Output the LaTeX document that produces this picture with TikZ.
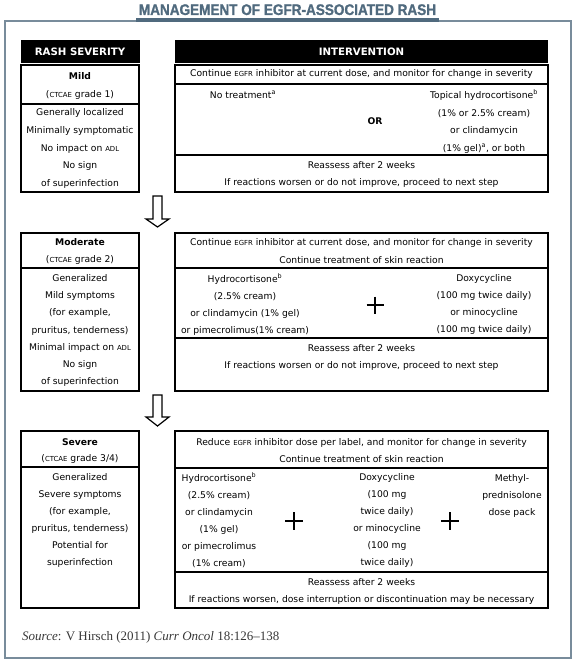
\documentclass[tikz,border=0pt]{standalone}
\usepackage{fontspec}
\setmainfont{DejaVu Sans}
\newfontfamily\srcfont{Liberation Serif}[Ligatures=TeX]
\newfontfamily\titlefont{Liberation Sans}[FakeStretch=0.88,FakeBold=1.2]
\definecolor{framec}{RGB}{120,140,155}
\definecolor{titlec}{RGB}{80,106,126}
\definecolor{srcc}{RGB}{55,55,55}
\newcommand\smc[1]{{\fontsize{6.9}{6.9}\selectfont #1}}
\begin{document}
\begin{tikzpicture}[x=1pt,y=-1pt,
  box/.style={draw=black, line width=1.7pt, inner sep=0pt, outer sep=0pt},
  hdr/.style={fill=black, inner sep=0pt, minimum height=23pt, text=white, font=\fontsize{10.2}{12}\selectfont\bfseries},
  txt/.style={inner sep=0pt, font=\fontsize{9.2}{11}\selectfont},
  btxt/.style={inner sep=0pt, font=\fontsize{9.2}{11}\selectfont\bfseries},
  blk/.style={inner sep=0pt, align=center, font=\fontsize{9.2}{#1}\selectfont},
  div/.style={line width=1.5pt},
  arr/.style={draw=black, line width=1.2pt, fill=white, line join=miter},
  plusst/.style={line width=1.3pt}]
\useasboundingbox (0,0) rectangle (579,663);
% frame and title
\draw[framec, line width=1.3pt] (5,21) rectangle (571,658);
\fill[titlec] (136,18) rectangle (439,21.8);
\node[anchor=base, inner sep=0pt, text=titlec, font=\titlefont\bfseries\fontsize{15.4}{17}\selectfont] (title) at (287.5,15) {MANAGEMENT OF EGFR-ASSOCIATED RASH};
% headers
\node[hdr, minimum width=119pt] (hL) at (80,51.5) {RASH SEVERITY};
\node[hdr, minimum width=373pt] (hR) at (361.5,51.5) {INTERVENTION};

% ---------- Mild ----------
\node[box, minimum width=118pt, minimum height=127pt] (mL) at (80,128.5) {};
\node[box, minimum width=373pt, minimum height=127pt] (mR) at (361.5,128.5) {};
\draw[div] (21,104) -- (139,104);
\draw[div] (175,84) -- (548,84);
\draw[div] (175,155) -- (548,155);
\node[btxt] (mT) at (80,76) {Mild};
\node[txt] (mG) at (80,95) {(\smc{CTCAE} grade 1)};
\node[blk=17.75pt] (mD) at (80,148.5) {Generally localized\\Minimally symptomatic\\No impact on \smc{ADL}\\No sign\\of superinfection};
\node[txt] (mR1) at (361.5,74) {Continue \smc{EGFR} inhibitor at current dose, and monitor for change in severity};
\node[txt] (mNo) at (243,95) {No treatment\textsuperscript{a}};
\node[btxt] (mOr) at (375,121) {OR};
\node[blk=17.7pt] (mTop) at (484,121.5) {Topical hydrocortisone\textsuperscript{b}\\(1\% or 2.5\% cream)\\or clindamycin\\(1\% gel)\textsuperscript{a}, or both};
\node[blk=17pt] (mRe) at (361.5,174.5) {Reassess after 2 weeks\\If reactions worsen or do not improve, proceed to next step};

% arrow 1
\draw[arr] (153,196) -- (162,196) -- (162,219) -- (169,219) -- (157.5,227) -- (146,219) -- (153,219) -- cycle;

% ---------- Moderate ----------
\node[box, minimum width=118pt, minimum height=158pt] (oL) at (80,312) {};
\node[box, minimum width=373pt, minimum height=158pt] (oR) at (361.5,312) {};
\draw[div] (21,268) -- (139,268);
\draw[div] (175,268) -- (548,268);
\draw[div] (175,338) -- (548,338);
\node[btxt] (oT) at (80,242) {Moderate};
\node[txt] (oG) at (80,260) {(\smc{CTCAE} grade 2)};
\node[blk=17.2pt] (oD) at (80,330.5) {Generalized\\Mild symptoms\\(for example,\\pruritus, tenderness)\\Minimal impact on \smc{ADL}\\No sign\\of superinfection};
\node[blk=18pt] (oR1) at (361.5,251) {Continue \smc{EGFR} inhibitor at current dose, and monitor for change in severity\\Continue treatment of skin reaction};
\node[blk=17pt] (oC1) at (245,304.5) {Hydrocortisone\textsuperscript{b}\\(2.5\% cream)\\or clindamycin (1\% gel)\\or pimecrolimus(1\% cream)};
\draw[plusst] (366.5,305) -- (383.5,305) (375,296.5) -- (375,313.5);
\node[blk=17pt] (oC2) at (484,304.5) {Doxycycline\\(100 mg twice daily)\\or minocycline\\(100 mg twice daily)};
\node[blk=17pt] (oRe) at (361.5,357.5) {Reassess after 2 weeks\\If reactions worsen or do not improve, proceed to next step};

% arrow 2
\draw[arr] (153,395) -- (162,395) -- (162,417) -- (169,417) -- (157.5,426) -- (146,417) -- (153,417) -- cycle;

% ---------- Severe ----------
\node[box, minimum width=118pt, minimum height=177pt] (sL) at (80,519.5) {};
\node[box, minimum width=373pt, minimum height=177pt] (sR) at (361.5,519.5) {};
\draw[div] (21,467) -- (139,467);
\draw[div] (175,468) -- (548,468);
\draw[div] (175,572) -- (548,572);
\node[btxt] (sT) at (80,442) {Severe};
\node[txt] (sG) at (80,459) {(\smc{CTCAE} grade 3/4)};
\node[blk=17pt] (sD) at (80,520.5) {Generalized\\Severe symptoms\\(for example,\\pruritus, tenderness)\\Potential for\\superinfection};
\node[blk=17pt] (sR1) at (361.5,450.5) {Reduce \smc{EGFR} inhibitor dose per label, and monitor for change in severity\\Continue treatment of skin reaction};
\node[blk=17pt] (sC1) at (219,520.5) {Hydrocortisone\textsuperscript{b}\\(2.5\% cream)\\or clindamycin\\(1\% gel)\\or pimecrolimus\\(1\% cream)};
\draw[plusst] (285,521) -- (303,521) (294,512) -- (294,530);
\node[blk=17pt] (sC2) at (387,520.5) {Doxycycline\\(100 mg\\twice daily)\\or minocycline\\(100 mg\\twice daily)};
\draw[plusst] (441,521) -- (459,521) (450,512) -- (450,530);
\node[blk=17pt] (sC3) at (512,496) {Methyl-\\prednisolone\\dose pack};
\node[blk=17pt] (sRe) at (361.5,591.5) {Reassess after 2 weeks\\If reactions worsen, dose interruption or discontinuation may be necessary};

% source
\node[anchor=west, inner sep=0pt, text=srcc, font=\srcfont\fontsize{13}{15}\selectfont] (src) at (22,637) {\textit{Source}: V Hirsch (2011) \textit{Curr Oncol} 18:126–138};
\end{tikzpicture}
\end{document}
